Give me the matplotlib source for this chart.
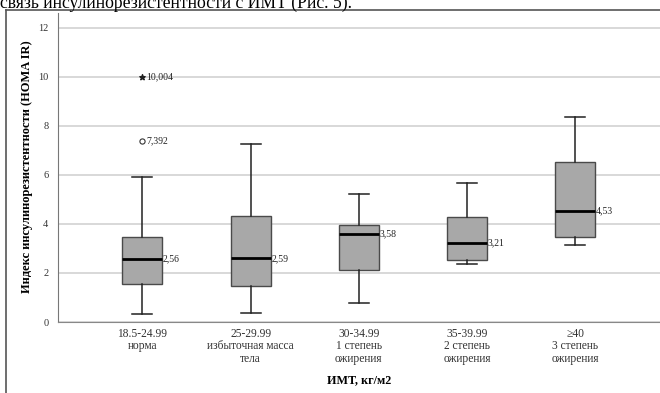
import matplotlib
matplotlib.use("Agg")
import matplotlib.pyplot as plt
from matplotlib.lines import Line2D

# Box statistics (HOMA IR by BMI group)
categories = ["18.5-24.99\nнорма", "25-29.99\nизбыточная масса\nтела",
              "30-34.99\n1 степень\nожирения", "35-39.99\n2 степень\nожирения",
              "≥40\n3 степень\nожирения"]
whislo = [0.34, 0.38, 0.79, 2.36, 3.14]
q1 = [1.54, 1.48, 2.13, 2.52, 3.48]
medians = [2.56, 2.59, 3.58, 3.21, 4.53]
q3 = [3.48, 4.34, 3.97, 4.27, 6.52]
whishi = [5.90, 7.25, 5.21, 5.66, 8.37]

# outliers: (group index, value)
mild_outliers = [(0, 7.392)]
extreme_outliers = [(0, 10.004)]

plt.rcParams['font.family'] = ['Liberation Serif', 'DejaVu Serif']

fig = plt.figure(figsize=(6.6, 3.93), dpi=100)
ax = fig.add_axes([58 / 660, 1 - 322 / 393, 1 - 58 / 660, (322 - 13) / 393])

stats = []
for i in range(len(categories)):
    stats.append(dict(whislo=whislo[i], q1=q1[i], med=medians[i], q3=q3[i],
                      whishi=whishi[i], fliers=[]))
positions = list(range(1, len(categories) + 1))

ax.bxp(stats, positions=positions, widths=0.37, patch_artist=True, showfliers=False,
       boxprops=dict(facecolor='#a8a8a8', edgecolor='#4a4a4a', linewidth=1.0),
       medianprops=dict(color='black', linewidth=2.0),
       whiskerprops=dict(color='#222222', linewidth=1.1),
       capprops=dict(color='#222222', linewidth=1.1),
       capwidths=0.185, zorder=3)

# median labels
for p, m in zip(positions, medians):
    ax.text(p + 0.19, m, f"{m:.2f}".replace(".", ","), fontsize=7,
            va='center', ha='left', color='#222222', zorder=4)

for gi, v in mild_outliers:
    ax.scatter(positions[gi], v, marker='o', s=14, facecolor='white',
               edgecolor='#333333', linewidth=0.8, zorder=4)
    ax.text(positions[gi] + 0.04, v, f"{v:.3f}".replace(".", ","), fontsize=7,
            va='center', ha='left', color='#222222')
for gi, v in extreme_outliers:
    ax.scatter(positions[gi], v, marker='*', s=16, color='#222222', zorder=4)
    ax.text(positions[gi] + 0.04, v, f"{v:.3f}".replace(".", ","), fontsize=7,
            va='center', ha='left', color='#222222')

ax.set_xlim(0.221, 5.782)
ax.set_ylim(0, 12.6)
ax.set_yticks([0, 2, 4, 6, 8, 10, 12])
ax.set_xticks(positions)
ax.set_xticklabels(categories, fontsize=8.3, linespacing=1.1)
ax.tick_params(axis='both', length=0, colors='#333333')
ax.tick_params(axis='y', labelsize=7.5, pad=7)
ax.tick_params(axis='x', pad=4)

ax.yaxis.grid(True, color='#d2d2d2', linewidth=1.2)
ax.set_axisbelow(True)
for s in ['top', 'right']:
    ax.spines[s].set_visible(False)
ax.spines['left'].set_color('#777777')
ax.spines['bottom'].set_color('#888888')

ax.set_ylabel("Индекс инсулинорезистентности (HOMA IR)", fontsize=9,
              fontweight='bold')
ax.yaxis.set_label_coords(-25 / 602, 0.503)
ax.set_xlabel("ИМТ, кг/м2", fontsize=8.7, fontweight='bold', labelpad=6)

# outer frame of the screenshot
fig.add_artist(Line2D([6 / 660, 6 / 660], [0, 1 - 9.5 / 393],
                      transform=fig.transFigure, color='#555555', linewidth=1.2))
fig.add_artist(Line2D([6 / 660, 1], [1 - 9.5 / 393, 1 - 9.5 / 393],
                      transform=fig.transFigure, color='#555555', linewidth=1.2))

# cropped body text above the chart
fig.text(0.0, 1 - 7.5 / 393, "связь инсулинорезистентности с ИМТ (Рис. 5).",
         fontsize=12.7, va='baseline', ha='left', color='black')

fig.savefig("out.png", dpi=100)
